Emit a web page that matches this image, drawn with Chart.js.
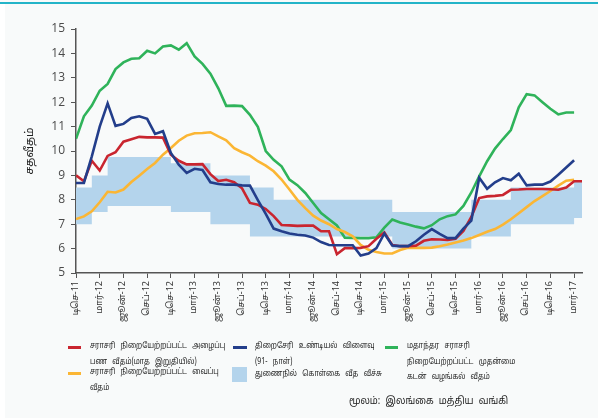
<!DOCTYPE html>
<html><head><meta charset="utf-8">
<script src="https://cdn.jsdelivr.net/npm/chart.js@4.4.1/dist/chart.umd.min.js"></script>
<style>
html,body{margin:0;padding:0;background:#f8fafa;}
#wrap{position:relative;width:598px;height:418px;overflow:hidden;background:#f8fafa;}
#topline{position:absolute;left:0;top:2px;width:598px;height:2px;background:#23b4c8;}
#leftstrip{position:absolute;left:0;top:4px;width:5px;height:414px;background:#ffffff;}
canvas{position:absolute;left:0;top:0;}
.lg{position:absolute;font-family:"Noto Sans Tamil","Noto Sans",sans-serif;font-size:8.2px;color:#222;line-height:15.5px;white-space:nowrap;word-spacing:4px;transform:scaleX(0.86);transform-origin:0 0;}
.src{position:absolute;font-family:"Noto Sans Tamil","Noto Sans",sans-serif;font-size:10px;color:#222;white-space:nowrap;word-spacing:3px;transform:scaleX(0.93);transform-origin:100% 0;}
.sw{position:absolute;height:3px;width:13px;}
</style></head>
<body><div id="wrap"><div id="topline"></div><div id="leftstrip"></div>
<canvas id="c" width="598" height="418"></canvas>
<div class="sw" style="left:68px;top:346px;background:#c9252f"></div>
<div class="lg" style="left:90px;top:339px">சராசரி நிறையேற்றப்பட்ட அழைப்பு<br>பண வீதம்(மாத இறுதியில்)</div>
<div class="sw" style="left:68px;top:372px;background:#fbb634"></div>
<div class="lg" style="left:90px;top:365px">சராசரி நிறையேற்றப்பட்ட வைப்பு<br>வீதம்</div>
<div class="sw" style="left:233px;top:346px;width:14px;background:#233e8b"></div>
<div class="lg" style="left:255px;top:339px">திறைசேரி உண்டியல் விளைவு<br>(91- நாள்)</div>
<div class="sw" style="left:232px;top:367px;width:15px;height:15px;background:#b4d4ec"></div>
<div class="lg" style="left:255px;top:367px">துணைநில் கொள்கை வீத வீச்சு</div>
<div class="sw" style="left:385px;top:346px;background:#2fb35a"></div>
<div class="lg" style="left:407px;top:339px">மதாந்தர சராசரி<br>நிறையேற்றப்பட்ட முதன்மை<br>கடன் வழங்கல் வீதம்</div>
<div class="src" style="right:90px;top:395px">மூலம்: இலங்கை மத்திய வங்கி</div>
</div>
<script>
const xTickLabels = ['டிசெ-11','மார்-12','ஜூன்-12','செப்-12','டிசெ-12','மார்-13','ஜூன்-13','செப்-13','டிசெ-13','மார்-14','ஜூன்-14','செப்-14','டிசெ-14','மார்-15','ஜூன்-15','செப்-15','டிசெ-15','மார்-16','ஜூன்-16','செப்-16','டிசெ-16','மார்-17'];

// monthly values, Dec-11 onward
const callRate = [9.0,8.76,9.6,9.2,9.8,9.95,10.38,10.48,10.58,10.56,10.56,10.55,9.85,9.6,9.45,9.45,9.46,9.05,8.77,8.82,8.72,8.47,7.87,7.8,7.62,7.33,6.97,6.95,6.93,6.94,6.94,6.71,6.71,5.77,6.02,6.02,6.03,6.1,6.4,6.66,6.15,6.1,6.1,6.12,6.32,6.38,6.37,6.35,6.4,6.72,7.3,8.07,8.14,8.16,8.2,8.41,8.42,8.44,8.44,8.44,8.43,8.41,8.5,8.76,8.76];
const tbillYield = [8.69,8.69,9.78,11.0,11.95,11.03,11.11,11.35,11.42,11.32,10.7,10.81,9.92,9.44,9.1,9.27,9.22,8.72,8.65,8.62,8.62,8.59,8.58,7.99,7.42,6.82,6.71,6.62,6.57,6.54,6.45,6.27,6.15,6.14,6.14,6.14,5.72,5.8,6.02,6.62,6.13,6.1,6.1,6.3,6.57,6.8,6.6,6.43,6.43,6.82,7.15,8.9,8.45,8.72,8.89,8.8,9.07,8.59,8.62,8.62,8.75,9.03,9.32,9.62];
const primeLending = [10.5,11.42,11.86,12.47,12.75,13.36,13.63,13.78,13.8,14.11,14.0,14.28,14.33,14.15,14.42,13.88,13.57,13.17,12.57,11.85,11.86,11.84,11.48,10.99,10.0,9.64,9.37,8.83,8.6,8.28,7.87,7.46,7.2,6.95,6.45,6.44,6.43,6.43,6.46,6.86,7.19,7.07,6.99,6.9,6.83,6.96,7.2,7.33,7.4,7.75,8.3,8.96,9.58,10.1,10.49,10.86,11.79,12.33,12.28,12.0,11.73,11.5,11.58,11.58];
const depositRate = [7.21,7.32,7.53,7.9,8.33,8.3,8.42,8.73,8.99,9.26,9.51,9.85,10.12,10.42,10.63,10.73,10.74,10.77,10.6,10.44,10.12,9.95,9.81,9.58,9.4,9.17,8.83,8.42,8.0,7.66,7.35,7.15,7.0,6.8,6.68,6.5,6.15,5.95,5.86,5.8,5.8,5.94,6.03,6.03,6.03,6.04,6.1,6.17,6.25,6.33,6.43,6.56,6.69,6.8,6.98,7.2,7.45,7.7,7.95,8.15,8.36,8.58,8.78,8.82];
const corridorLow = [7,7,7.5,7.5,7.75,7.75,7.75,7.75,7.75,7.75,7.75,7.75,7.5,7.5,7.5,7.5,7.5,7,7,7,7,7,6.5,6.5,6.5,6.5,6.5,6.5,6.5,6.5,6.5,6.5,6.5,6.5,6.5,6.5,6.5,6.5,6.5,6.5,6,6,6,6,6,6,6,6,6,6,6.5,6.5,6.5,6.5,6.5,7,7,7,7,7,7,7,7,7.25,7.25];
const corridorHigh = [8.5,8.5,9,9,9.75,9.75,9.75,9.75,9.75,9.75,9.75,9.75,9.5,9.5,9.5,9.5,9.5,9,9,9,9,9,8.5,8.5,8.5,8,8,8,8,8,8,8,8,8,8,8,8,8,8,8,7.5,7.5,7.5,7.5,7.5,7.5,7.5,7.5,7.5,7.5,8,8,8,8,8,8.5,8.5,8.5,8.5,8.5,8.5,8.5,8.5,8.75,8.75];

const pts = a => a.map((v,i)=>({x:i,y:v}));
const TAMIL = '"Noto Sans Tamil","Noto Sans",sans-serif';

const yTitle = {
  id:'yTitle',
  afterDraw(chart){
    const ctx = chart.ctx; const a = chart.chartArea;
    ctx.save();
    ctx.translate(31,(a.top+a.bottom)/2);
    ctx.rotate(-Math.PI/2);
    ctx.font = '11px '+TAMIL;
    ctx.fillStyle = '#222';
    ctx.textAlign='center'; ctx.textBaseline='middle';
    ctx.fillText('சதவீதம்',0,0);
    ctx.restore();
  }
};

new Chart(document.getElementById('c'), {
  type:'line',
  data:{datasets:[
    {label:'callRate', data:pts(callRate), borderColor:'#c9252f', borderWidth:2.6, pointRadius:0, fill:false, order:2, tension:0},
    {label:'tbill', data:pts(tbillYield), borderColor:'#233e8b', borderWidth:2.6, pointRadius:0, fill:false, order:1, tension:0},
    {label:'prime', data:pts(primeLending), borderColor:'#2fb35a', borderWidth:2.6, pointRadius:0, fill:false, order:4, tension:0},
    {label:'deposit', data:pts(depositRate), borderColor:'#fbb634', borderWidth:2.6, pointRadius:0, fill:false, order:3, tension:0},
    {label:'low', data:pts(corridorLow), borderWidth:0, borderColor:'rgba(0,0,0,0)', pointRadius:0, fill:false, stepped:'before', order:10},
    {label:'high', data:pts(corridorHigh), borderWidth:0, borderColor:'rgba(0,0,0,0)', backgroundColor:'#b4d4ec', pointRadius:0, fill:'-1', stepped:'before', order:9}
  ]},
  options:{
    responsive:false, animation:false, devicePixelRatio:1,
    layout:{padding:{top:29,right:16,left:0,bottom:0}},
    plugins:{legend:{display:false}, tooltip:{enabled:false}},
    scales:{
      x:{type:'linear', min:0, max:64,
        afterBuildTicks:s=>{ s.ticks = xTickLabels.map((_,k)=>({value:k*3})); },
        afterFit:s=>{ s.height = 145; },
        ticks:{callback:v=>xTickLabels[Math.round(v/3)], maxRotation:90, minRotation:90, autoSkip:false,
          font:{size:9, family:TAMIL}, color:'#333', padding:3},
        grid:{drawOnChartArea:false, drawTicks:true, tickLength:5, color:'#555'},
        border:{color:'#555', width:1.5}
      },
      y:{min:5, max:15,
        afterFit:s=>{ s.width = 76; },
        ticks:{stepSize:1, font:{size:12, family:'"Open Sans",sans-serif'}, color:'#4a4a4a', padding:6},
        grid:{drawOnChartArea:false, drawTicks:true, tickLength:5, color:'#555'},
        border:{color:'#555', width:1.5}
      }
    }
  },
  plugins:[yTitle]
});
</script>
</body></html>
